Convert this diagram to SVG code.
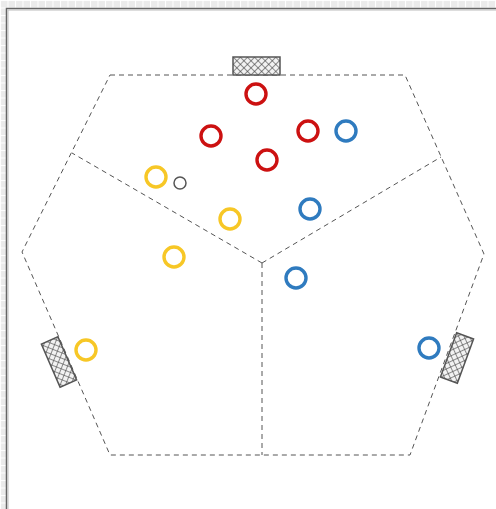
<svg xmlns="http://www.w3.org/2000/svg" width="496" height="509" viewBox="0 0 496 509">
  <defs>
    <pattern id="grid" width="7.5" height="7.5" patternUnits="userSpaceOnUse">
      <rect width="7.5" height="7.5" fill="#ffffff"/>
      <rect x="1" y="1" width="6.5" height="6.5" fill="#ebebeb"/>
    </pattern>
    <pattern id="hatch" width="5" height="5" patternUnits="userSpaceOnUse" patternTransform="rotate(45)">
      <rect width="5" height="5" fill="#f2f2f2"/>
      <line x1="0" y1="0" x2="0" y2="5" stroke="#444" stroke-width="1.2"/>
      <line x1="0" y1="0" x2="5" y2="0" stroke="#444" stroke-width="1.2"/>
    </pattern>
    <style>
      .field { fill: none; stroke: #555; stroke-width: 1; stroke-dasharray: 5 4; }
      .goal { fill: url(#hatch); stroke: #555; stroke-width: 1.5; }
      .red { fill: none; stroke: #cc1111; stroke-width: 3.4; }
      .blue { fill: none; stroke: #2f7bbf; stroke-width: 3.4; }
      .yellow { fill: none; stroke: #f7c726; stroke-width: 3.4; }
      .ball { fill: none; stroke: #555; stroke-width: 1.5; }
    </style>
  </defs>
  <rect width="496" height="509" fill="url(#grid)"/>
  <rect x="6.5" y="8.5" width="500" height="510" fill="#ffffff" stroke="#666" stroke-width="1.5"/>
  <line x1="8" y1="10" x2="496" y2="10" stroke="#bbb" stroke-width="1"/>
  <line x1="8" y1="10" x2="8" y2="509" stroke="#bbb" stroke-width="1"/>

  <g id="field">
    <polygon class="field" points="110,75 405,75 484,254 410,455 110,455 22,252"/>
    <line class="field" x1="262" y1="263" x2="72" y2="153"/>
    <line class="field" x1="262" y1="263" x2="441" y2="157"/>
    <line class="field" x1="262" y1="263" x2="262" y2="455"/>
  </g>

  <g id="goal-top"><rect class="goal" x="233" y="57" width="47" height="18"/></g>
  <g id="goal-left" transform="translate(59,362) rotate(66.56)"><rect class="goal" x="-23.5" y="-9" width="47" height="18"/></g>
  <g id="goal-right" transform="translate(457,358) rotate(-69.8)"><rect class="goal" x="-23.5" y="-9" width="47" height="18"/></g>

  <g id="red-players">
    <circle class="red" cx="256" cy="94" r="10"/>
    <circle class="red" cx="211" cy="136" r="10"/>
    <circle class="red" cx="308" cy="131" r="10"/>
    <circle class="red" cx="267" cy="160" r="10"/>
  </g>
  <g id="blue-players">
    <circle class="blue" cx="346" cy="131" r="10"/>
    <circle class="blue" cx="310" cy="209" r="10"/>
    <circle class="blue" cx="296" cy="278" r="10"/>
    <circle class="blue" cx="429" cy="348" r="10"/>
  </g>
  <g id="yellow-players">
    <circle class="yellow" cx="156" cy="177" r="10"/>
    <circle class="yellow" cx="230" cy="219" r="10"/>
    <circle class="yellow" cx="174" cy="257" r="10"/>
    <circle class="yellow" cx="86" cy="350" r="10"/>
  </g>
  <g id="ball"><circle class="ball" cx="180" cy="183" r="6"/></g>
</svg>
